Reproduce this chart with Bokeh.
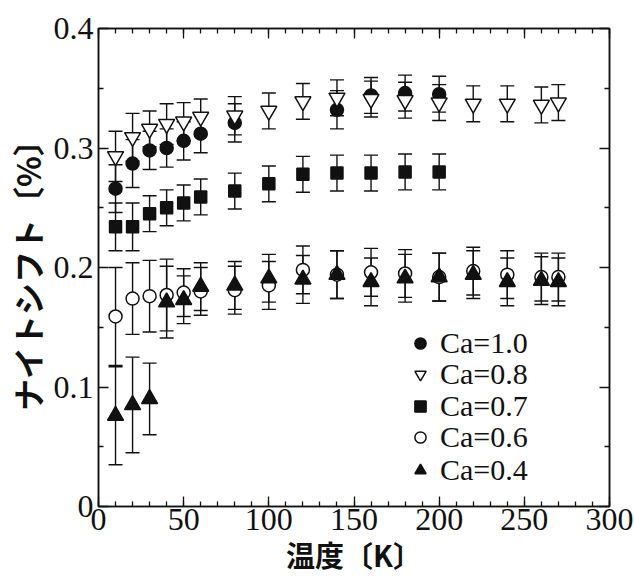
from bokeh.plotting import figure
from bokeh.models import (ColumnDataSource, Whisker, TeeHead, Range1d, FixedTicker,
                          LinearAxis, Legend, LegendItem)
from bokeh.embed import file_html
from bokeh.resources import INLINE

# ---------------- data ----------------
T_ca10 = [10, 20, 30, 40, 50, 60, 80, 140, 160, 180, 200]
v_ca10 = [0.266, 0.287, 0.298, 0.300, 0.306, 0.312, 0.321, 0.332, 0.344, 0.346, 0.345]
e_ca10 = [0.020, 0.020, 0.016, 0.016, 0.016, 0.016, 0.016, 0.016, 0.015, 0.015, 0.015]

T_ca08 = [10, 20, 30, 40, 50, 60, 80, 100, 120, 140, 160, 180, 200, 220, 240, 260, 270]
v_ca08 = [0.293, 0.309, 0.316, 0.320, 0.322, 0.326, 0.327, 0.331, 0.339, 0.342, 0.341,
          0.340, 0.338, 0.337, 0.337, 0.336, 0.338]
e_ca08 = [0.021, 0.020, 0.015, 0.017, 0.016, 0.015, 0.016, 0.015, 0.015, 0.015, 0.015,
          0.015, 0.015, 0.015, 0.015, 0.015, 0.015]

T_ca07 = [10, 20, 30, 40, 50, 60, 80, 100, 120, 140, 160, 180, 200]
v_ca07 = [0.234, 0.234, 0.245, 0.250, 0.254, 0.259, 0.264, 0.270, 0.278, 0.279, 0.279, 0.280, 0.280]
e_ca07 = [0.020, 0.020, 0.015, 0.015, 0.015, 0.015, 0.015, 0.015, 0.015, 0.015, 0.015, 0.015, 0.015]

T_ca06 = [10, 20, 30, 40, 50, 60, 80, 100, 120, 140, 160, 180, 200, 220, 240, 260, 270]
v_ca06 = [0.159, 0.174, 0.176, 0.177, 0.179, 0.180, 0.181, 0.185, 0.198, 0.194, 0.196,
          0.195, 0.192, 0.197, 0.194, 0.192, 0.192]
e_ca06 = [0.041, 0.030, 0.030, 0.030, 0.020, 0.020, 0.020, 0.020, 0.020, 0.020, 0.020,
          0.020, 0.020, 0.020, 0.020, 0.020, 0.020]

T_ca04 = [10, 20, 30, 40, 50, 60, 80, 100, 120, 140, 160, 180, 200, 220, 240, 260, 270]
v_ca04 = [0.076, 0.085, 0.090, 0.171, 0.173, 0.184, 0.185, 0.191, 0.190, 0.194, 0.188,
          0.191, 0.192, 0.194, 0.188, 0.189, 0.188]
e_ca04 = [0.041, 0.040, 0.030, 0.030, 0.020, 0.020, 0.020, 0.020, 0.020, 0.020, 0.020,
          0.020, 0.020, 0.020, 0.020, 0.020, 0.020]

labels = ["Ca=1.0", "Ca=0.8", "Ca=0.7", "Ca=0.6", "Ca=0.4"]

x_ticks = [0, 50, 100, 150, 200, 250, 300]
x_minor = list(range(0, 301, 10))
y_ticks = [0, 0.1, 0.2, 0.3, 0.4]
y_minor = [0.05, 0.15, 0.25, 0.35]
y_tick_labels = {0: "0", 0.1: "0.1", 0.2: "0.2", 0.3: "0.3", 0.4: "0.4"}

x_label = "温度〔K〕"
y_label = "ナイトシフト〔%〕"

# ---------------- figure ----------------
INK = "#111111"
SERIF = "'Liberation Serif', 'Times New Roman', serif"
CJK = "'Noto Sans CJK JP', sans-serif"

p = figure(width=634, height=577, output_backend="svg", toolbar_location=None,
           x_range=Range1d(0, 300), y_range=Range1d(0, 0.4),
           min_border_left=98, min_border_right=25, min_border_top=28, min_border_bottom=70)
p.xgrid.visible = False
p.ygrid.visible = False
p.outline_line_color = INK
p.outline_line_width = 1.5
p.background_fill_color = "white"
p.border_fill_color = "white"

def style_axis(ax, ticks, minor, show_labels):
    ax.ticker = FixedTicker(ticks=ticks, minor_ticks=minor)
    ax.axis_line_color = INK
    ax.axis_line_width = 1.5
    ax.major_tick_line_color = INK
    ax.minor_tick_line_color = INK
    ax.major_tick_line_width = 1.3
    ax.minor_tick_line_width = 1.3
    ax.major_tick_in = 10
    ax.major_tick_out = 0
    ax.minor_tick_in = 5
    ax.minor_tick_out = 0
    if show_labels:
        ax.major_label_text_font = SERIF
        ax.major_label_text_font_size = "32px"
        ax.major_label_text_color = INK
    else:
        ax.major_label_overrides = {t: "" for t in ticks}
        ax.major_label_standoff = 0

style_axis(p.xaxis[0], x_ticks, x_minor, True)
style_axis(p.yaxis[0], y_ticks, y_minor, True)
p.yaxis[0].major_label_overrides = y_tick_labels
p.xaxis[0].major_label_standoff = 2
p.yaxis[0].major_label_standoff = 5

p.yaxis[0].axis_label = y_label
p.yaxis[0].axis_label_text_font = CJK
p.yaxis[0].axis_label_text_font_size = "32px"
p.yaxis[0].axis_label_text_font_style = "bold"
p.yaxis[0].axis_label_text_color = INK
p.yaxis[0].axis_label_standoff = 1

p.xaxis[0].axis_label = x_label
p.xaxis[0].axis_label_text_font = CJK
p.xaxis[0].axis_label_text_font_size = "29px"
p.xaxis[0].axis_label_text_font_style = "bold"
p.xaxis[0].axis_label_text_color = INK
p.xaxis[0].axis_label_standoff = 0

top = LinearAxis()
style_axis(top, x_ticks, x_minor, False)
p.add_layout(top, "above")
right = LinearAxis()
style_axis(right, y_ticks, y_minor, False)
p.add_layout(right, "right")

series = [
    (T_ca10, v_ca10, e_ca10, "circle", INK, 13),
    (T_ca08, v_ca08, e_ca08, "inverted_triangle", "white", 16),
    (T_ca07, v_ca07, e_ca07, "square", INK, 12),
    (T_ca06, v_ca06, e_ca06, "circle", "white", 13),
    (T_ca04, v_ca04, e_ca04, "triangle", INK, 16),
]

# legend rows: bottom offsets (px above the frame bottom)
legend_rows_y = [146, 115, 83, 52, 19]

for (T, v, e, marker, fill, size), lab, ly in zip(series, labels, legend_rows_y):
    src = ColumnDataSource(dict(x=T, y=v,
                                upper=[a + b for a, b in zip(v, e)],
                                lower=[a - b for a, b in zip(v, e)]))
    w = Whisker(source=src, base="x", upper="upper", lower="lower",
                line_color=INK, line_width=1.4,
                upper_head=TeeHead(size=14, line_color=INK, line_width=1.4),
                lower_head=TeeHead(size=14, line_color=INK, line_width=1.4))
    p.add_layout(w)
    r = p.scatter("x", "y", source=src, marker=marker, size=size,
                  fill_color=fill, line_color=INK, line_width=1.5)
    leg = Legend(items=[LegendItem(label=lab, renderers=[r])], location=(306, ly),
                 label_text_font=SERIF, label_text_font_size="30px",
                 label_text_color=INK, spacing=0, padding=0, margin=0,
                 glyph_width=32, glyph_height=28, label_height=28, label_standoff=4,
                 border_line_color=None, background_fill_alpha=0)
    p.add_layout(leg, "center")

open("out.html", "w").write(file_html(p, INLINE))
